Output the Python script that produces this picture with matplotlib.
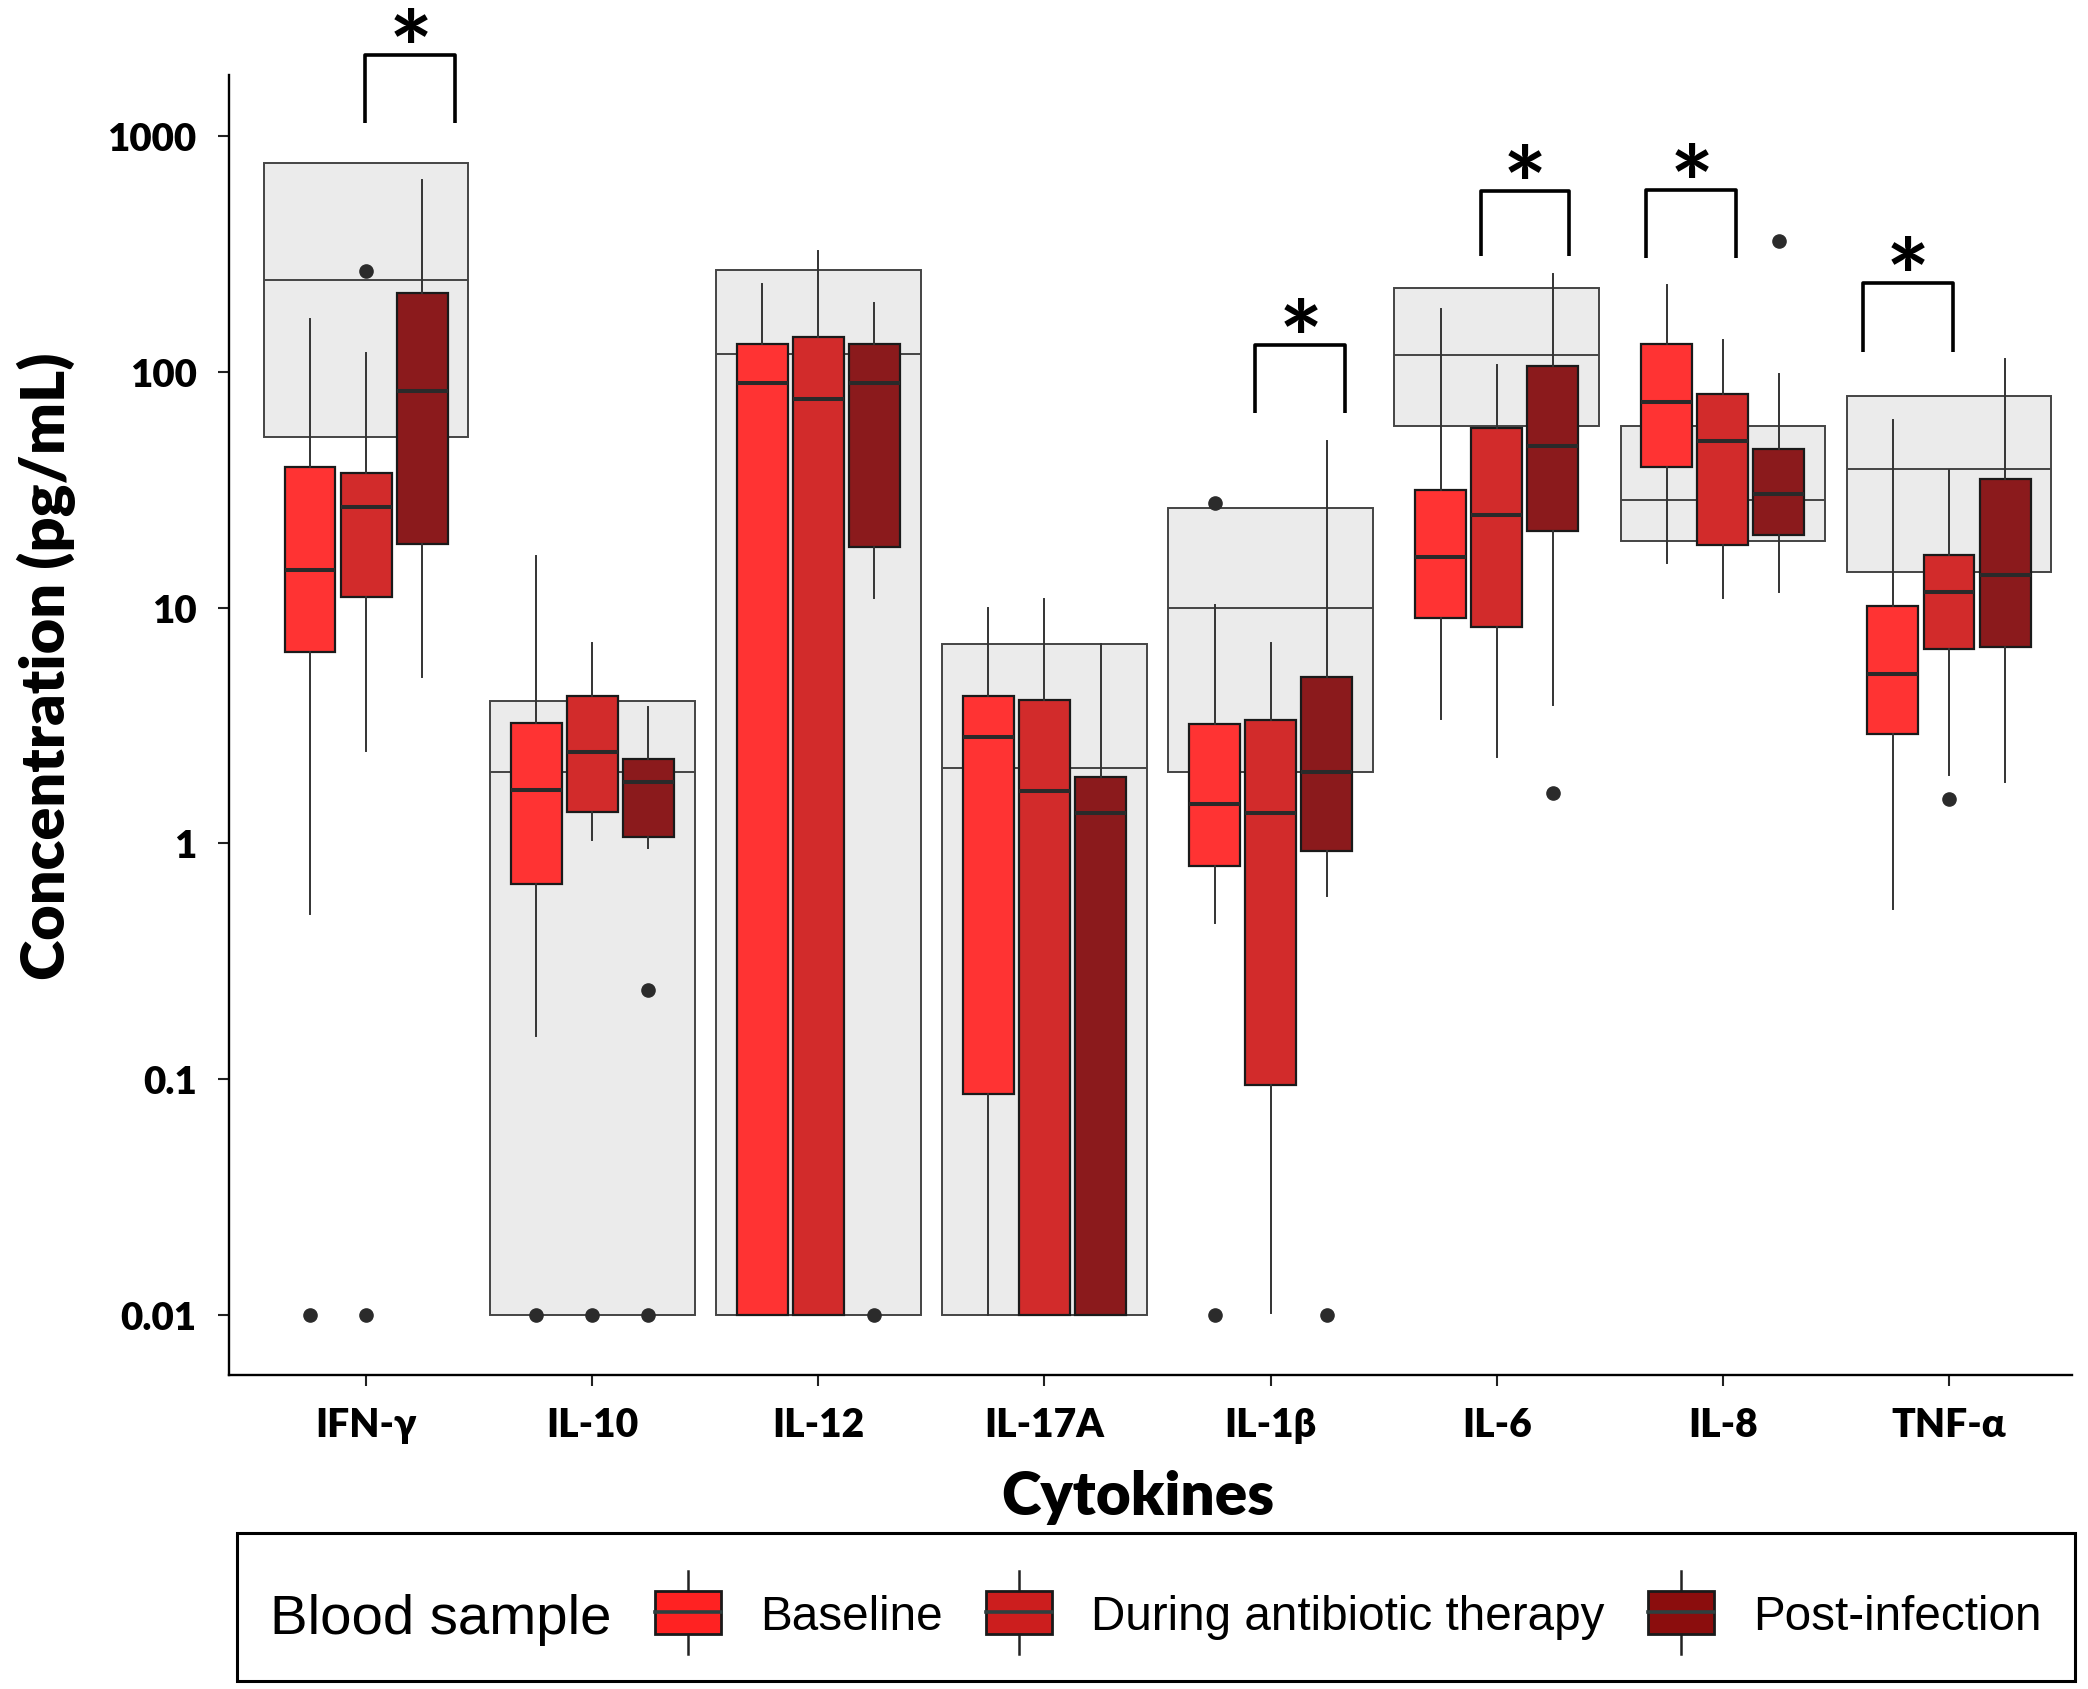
import numpy as np
import matplotlib
matplotlib.use('Agg')
import matplotlib.pyplot as plt
from matplotlib.patches import Rectangle, Patch
from matplotlib.lines import Line2D
from matplotlib.legend_handler import HandlerBase
from matplotlib.ticker import NullLocator
from matplotlib.textpath import TextPath
from matplotlib.font_manager import FontProperties

# ---------------- data ----------------
cytokines = ['IFN-γ', 'IL-10', 'IL-12', 'IL-17A', 'IL-1β', 'IL-6', 'IL-8', 'TNF-α']
groups = ['Baseline', 'During antibiotic therapy', 'Post-infection']
group_colors = ['#FF3333', '#D22B2B', '#8B1A1C']

# [lower whisker, Q1, median, Q3, upper whisker] per cytokine
baseline_stats = [
    [0.50, 6.5, 14.5, 39.4, 167],
    [0.152, 0.676, 1.68, 3.23, 16.5],
    [0.01, 0.01, 89.7, 131.5, 236],
    [0.01, 0.087, 2.84, 4.2, 10.0],
    [0.46, 0.80, 1.47, 3.21, 10.3],
    [3.36, 9.0, 16.4, 31.6, 184],
    [15.4, 39.5, 74.2, 131.8, 233],
    [0.527, 2.9, 5.24, 10.2, 62.4],
]
during_stats = [
    [2.47, 11.1, 26.6, 37.4, 120],
    [1.03, 1.36, 2.44, 4.22, 7.05],
    [0.01, 0.01, 77, 140, 324],
    [0.01, 0.01, 1.67, 4.07, 10.9],
    [0.0102, 0.0947, 1.34, 3.33, 7.1],
    [2.32, 8.27, 24.8, 58, 107],
    [11.0, 18.5, 51.1, 80.7, 136],
    [1.96, 6.7, 11.6, 16.7, 38.3],
]
post_stats = [
    [5.08, 18.6, 82.6, 215, 653],
    [0.955, 1.07, 1.82, 2.28, 3.8],
    [11.0, 18.1, 89.7, 131.5, 195],
    [0.01, 0.01, 1.34, 1.92, 7.0],
    [0.60, 0.93, 2.0, 5.08, 51],
    [3.87, 21.2, 48.3, 106, 259],
    [11.7, 20.3, 30.2, 47.2, 98.2],
    [1.82, 6.8, 13.7, 35.2, 113],
]
baseline_outliers = [[0.01], [0.01], [], [], [0.01, 27.9], [], [], []]
during_outliers = [[0.01, 267], [0.01], [], [], [], [], [], [1.54]]
post_outliers = [[], [0.24, 0.01], [0.01], [], [0.01], [1.64], [357], []]

# reference (grey) ranges: low, middle line, high
ref_low = [53, 0.01, 0.01, 0.01, 2.0, 58.7, 19.2, 14.2]
ref_mid = [246, 2.0, 119, 2.08, 10.0, 118, 28.5, 38.9]
ref_high = [771, 4.0, 270, 7.03, 26.5, 227, 58.7, 78.8]

# significance brackets (x in category units, y in pg/mL)
sig_x0 = [0.996, 4.933, 5.929, 6.661, 7.621]
sig_x1 = [1.395, 5.331, 6.320, 7.059, 8.016]
sig_top = [2209, 129.4, 583, 590, 237.5]
sig_leg = [1139, 66.7, 310, 303, 121.9]
sig_label = ['*', '*', '*', '*', '*']

y_ticks = [0.01, 0.1, 1, 10, 100, 1000]
y_tick_labels = ['0.01', '0.1', '1', '10', '100', '1000']

# ---------------- figure ----------------
W, H, DPI = 2088, 1690, 100
fig = plt.figure(figsize=(W / DPI, H / DPI), dpi=DPI)
ax = fig.add_axes([228.6 / W, 1 - 1376 / H, (2072 - 228.6) / W, (1376 - 76) / H])
ax.set_yscale('log')
ax.set_xlim(0.392, 8.544)
ax.set_ylim(0.00557, 1814)

pos = np.arange(1, len(cytokines) + 1)

ref = [dict(whislo=lo, q1=lo, med=m, q3=hi, whishi=hi, fliers=[])
       for lo, m, hi in zip(ref_low, ref_mid, ref_high)]
ax.bxp(ref, positions=pos, widths=0.905, patch_artist=True, showcaps=False,
       showfliers=False,
       boxprops=dict(facecolor='#EBEBEB', edgecolor='#444444', linewidth=1.4),
       medianprops=dict(color='#444444', linewidth=1.4),
       whiskerprops=dict(linewidth=0), manage_ticks=False, zorder=1)

offsets = [-0.248, 0.0, 0.248]
all_stats = [baseline_stats, during_stats, post_stats]
all_out = [baseline_outliers, during_outliers, post_outliers]
for stats, outl, col, off in zip(all_stats, all_out, group_colors, offsets):
    bs = [dict(whislo=s[0], q1=s[1], med=s[2], q3=s[3], whishi=s[4], fliers=o)
          for s, o in zip(stats, outl)]
    ax.bxp(bs, positions=pos + off, widths=0.225, patch_artist=True, showcaps=False,
           boxprops=dict(facecolor=col, edgecolor='#1a1a1a', linewidth=1.6),
           medianprops=dict(color='#2a2a2a', linewidth=2.9),
           whiskerprops=dict(color='#333333', linewidth=1.4),
           flierprops=dict(marker='o', markerfacecolor='#2b2b2b',
                           markeredgecolor='#2b2b2b', markersize=9.5),
           manage_ticks=False, zorder=3)

# axes styling
TW = 'heavy'
ax.set_xticks(pos)
ax.set_xticklabels(cytokines, fontfamily='Lato', fontweight=TW, fontsize=28)
ax.set_yticks(y_ticks)
ax.set_yticklabels(y_tick_labels, fontfamily='Lato', fontweight=TW, fontsize=28)
ax.yaxis.set_minor_locator(NullLocator())
for s in ['top', 'right']:
    ax.spines[s].set_visible(False)
for s in ['left', 'bottom']:
    ax.spines[s].set_linewidth(1.7)
    ax.spines[s].set_color('black')
ax.tick_params(axis='both', length=8, width=1.5, color='#222222')
ax.tick_params(axis='x', pad=14)
ax.tick_params(axis='y', pad=15)

# significance brackets
fp_star = FontProperties(family='Lato', weight='bold')
tp = TextPath((0, 0), '*', size=100, prop=fp_star)
ext = tp.get_extents()
star_fs = 100 * 24.1 / ext.width
xc = (ext.x0 + ext.x1) / 2 * star_fs / 100
yc = (ext.y0 + ext.y1) / 2 * star_fs / 100
for x0, x1, t, b, lab in zip(sig_x0, sig_x1, sig_top, sig_leg, sig_label):
    ax.plot([x0, x0, x1, x1], [b, t, t, b], color='black', lw=2.6,
            clip_on=False, zorder=5, solid_joinstyle='round', solid_capstyle='butt')
    ax.annotate(lab, xy=((x0 + x1) / 2, t), xytext=(-xc, 22.5 - yc),
                textcoords='offset points', ha='left', va='baseline',
                fontproperties=fp_star, annotation_clip=False)
for t in ax.texts:
    t.set_fontsize(star_fs)

# axis titles
ylab = fig.text(17 / W, 1 - 666 / H, 'Concentration (pg/mL)', rotation=90,
                ha='left', va='center', family='Lato', weight=TW, fontsize=40)
xlab = fig.text(1138 / W, 1 - 1515 / H, 'Cytokines', ha='center', va='baseline',
                family='Lato', weight=TW, fontsize=40)

# ---- calibrate text sizes to the reference ----
fig.canvas.draw()
r = fig.canvas.get_renderer()
lab17 = [t for t in ax.get_xticklabels() if t.get_text() == 'IL-17A'][0]
ax.tick_params(axis='x', labelsize=28 * 120 / lab17.get_window_extent(r).width)
lab1000 = [t for t in ax.get_yticklabels() if t.get_text() == '1000'][0]
ax.tick_params(axis='y', labelsize=28 * 89 / lab1000.get_window_extent(r).width)
ylab.set_fontsize(40 * 627 / ylab.get_window_extent(r).height)
xlab.set_fontsize(40 * 273 / xlab.get_window_extent(r).width)

tmp = fig.text(0, 0, 'During antibiotic therapy', family='Liberation Sans', fontsize=34)
leg_fs = 34 * 513 / tmp.get_window_extent(r).width
tmp.remove()
tmp = fig.text(0, 0, 'Blood sample', family='Liberation Sans', fontsize=34)
title_fs = 34 * 342 / tmp.get_window_extent(r).width
tmp.remove()

# ---- legend ----
px2pt = 72 / DPI
glyph_h = 43 * px2pt
glyph_ext = 20 * px2pt


class BoxGlyph(HandlerBase):
    def create_artists(self, legend, orig_handle, xdescent, ydescent,
                       width, height, fontsize, trans):
        fc = orig_handle.get_facecolor()
        x0 = -xdescent
        cx = x0 + width / 2
        cy = -ydescent + height / 2
        wl = Line2D([cx, cx], [cy - glyph_h / 2 - glyph_ext, cy + glyph_h / 2 + glyph_ext],
                    color='#222222', lw=1.8, transform=trans)
        rc = Rectangle((x0, cy - glyph_h / 2), width, glyph_h, facecolor=fc,
                       edgecolor='#1a1a1a', lw=2.0, transform=trans)
        ml = Line2D([x0, x0 + width], [cy, cy], color='#2f3f3f', lw=2.6, transform=trans)
        return [wl, rc, ml]


legend_colors = ['#FF2222', '#CC1E1E', '#8B0D0D']
handles = [Patch(facecolor=c) for c in legend_colors]
anchor = [655 / W, 1 - 1613 / H]
leg = fig.legend(handles, groups, loc='center left', bbox_to_anchor=anchor,
                 ncol=3, frameon=False, borderpad=0, borderaxespad=0,
                 handlelength=66.7 * px2pt / leg_fs,
                 handletextpad=38.7 * px2pt / leg_fs,
                 columnspacing=43 * px2pt / leg_fs,
                 handler_map={Patch: BoxGlyph()},
                 prop=FontProperties(family='Liberation Sans', size=leg_fs))
fig.canvas.draw()
bb = leg.legend_handles[0].get_window_extent(r)
dx = 688 - (bb.x0 + bb.x1) / 2
dy = (H - 1613) - (bb.y0 + bb.y1) / 2
leg.set_bbox_to_anchor([anchor[0] + dx / W, anchor[1] + dy / H], transform=fig.transFigure)

cap_h = 0.716 * title_fs / px2pt
fig.text(270 / W, 1 - (1614 + cap_h / 2) / H, 'Blood sample', family='Liberation Sans',
         fontsize=title_fs, ha='left', va='baseline')
fig.patches.append(Rectangle((237 / W, 1 - 1682 / H), (2075 - 237) / W, (1682 - 1534) / H,
                             transform=fig.transFigure, fill=False,
                             edgecolor='black', lw=2.2))

fig.savefig('out.png', dpi=DPI)
